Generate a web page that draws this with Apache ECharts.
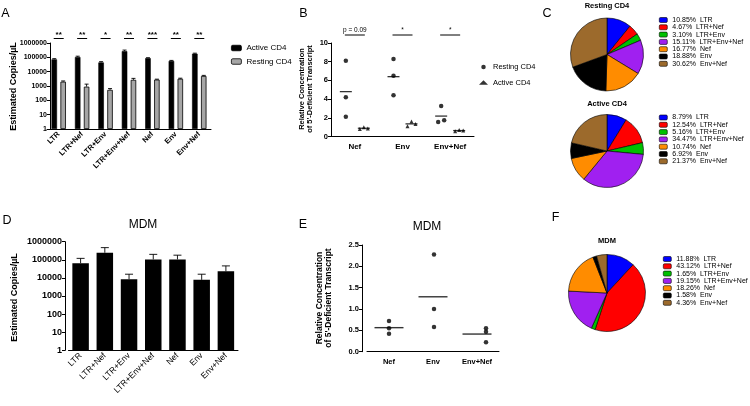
<!DOCTYPE html>
<html><head><meta charset="utf-8">
<script src="https://cdn.jsdelivr.net/npm/echarts@6/dist/echarts.min.js"></script>
<style>html,body{margin:0;padding:0;background:#fff}#c{width:750px;height:406px}</style>
</head><body><div id="c"></div>
<script>
// ---------- data ----------
const barCats = ['LTR','LTR+Nef','LTR+Env','LTR+Env+Nef','Nef','Env','Env+Nef'];
const activeCD4 = [72000, 105000, 44000, 270000, 88000, 56000, 180000];
const activeCD4Err = [9000, 15000, 6000, 50000, 6000, 5000, 15000];
const restingCD4 = [2000, 900, 540, 2700, 2800, 3200, 5000];
const restingCD4Err = [250, 450, 120, 700, 200, 300, 500];
const sigA = ['**','**','*','**','***','**','**'];

const dotCats = ['Nef','Env','Env+Nef'];
const restingRel = [[8.1,4.2,2.1],[8.3,6.5,4.4],[3.25,1.55,1.75]];
const activeRel = [[0.8,1.0,0.85],[1.1,1.6,1.35],[0.55,0.7,0.65]];
const sigB = ['p = 0.09','*','*'];

const mdm = [65000, 245000, 8500, 105000, 105000, 7800, 23000];
const mdmErr = [55000, 225000, 7500, 95000, 75000, 8200, 23000];

const mdmRel = [[0.72,0.55,0.42],[2.28,1.0,0.58],[0.55,0.47,0.22]];

const pieNames = ['LTR','LTR+Nef','LTR+Env','LTR+Env+Nef','Nef','Env','Env+Nef'];
const restingPct = [10.85,4.67,3.10,15.11,16.77,18.88,30.62];
const activePct = [8.79,12.54,5.16,34.47,10.74,6.92,21.37];
const mdmPct = [11.88,43.12,1.65,19.15,18.26,1.58,4.36];
const pieColors = ['#0000ff','#ff0000','#00c000','#a020f0','#ff8c00','#000000','#9c6a2c'];

// ---------- helpers ----------
const FONT = '"Liberation Sans", Arial, sans-serif';
const BLK = '#000';
function errBar(dx, cap) {
  return function (params, api) {
    const i = api.value(0);
    const p0 = api.coord([i, api.value(1)]);
    const p1 = api.coord([i, api.value(2)]);
    const x = p0[0] + dx;
    const st = {stroke: BLK, lineWidth: 0.9};
    return {type: 'group', children: [
      {type: 'line', shape: {x1: x, y1: p0[1], x2: x, y2: p1[1]}, style: st},
      {type: 'line', shape: {x1: x - cap, y1: p1[1], x2: x + cap, y2: p1[1]}, style: st}
    ]};
  };
}
function sigMarks(labels, half, lineGap, textGap, font) {
  return function (params, api) {
    const i = api.value(0);
    const cs = params.coordSys;
    const x = api.coord([i, api.value(1)])[0];
    return {type: 'group', children: [
      {type: 'line', shape: {x1: x - half, y1: cs.y - lineGap, x2: x + half, y2: cs.y - lineGap}, style: {stroke: BLK, lineWidth: 1}},
      {type: 'text', style: {text: labels[i], x: x, y: cs.y - textGap, align: 'center', verticalAlign: 'middle', font: font, fill: BLK}}
    ]};
  };
}
function dots(groups, off, jit) {
  const out = [];
  groups.forEach((arr, c) => arr.forEach((v, k) => out.push({value: [c, v], symbolOffset: [off + jit[c][k], 0]})));
  return out;
}
function means(groups, off) {
  return groups.map((arr, c) => ({value: [c, arr.reduce((a, b) => a + b, 0) / arr.length], symbolOffset: [off, 0]}));
}
function catX(grid, cats, fs, fw, rot, margin) {
  return {gridIndex: grid, type: 'category', data: cats,
    axisLine: {lineStyle: {color: BLK, width: 1}},
    axisTick: {alignWithLabel: true, length: 3, lineStyle: {color: BLK}},
    axisLabel: {rotate: rot, fontSize: fs, fontWeight: fw, color: BLK, margin: margin, interval: 0, fontFamily: FONT},
    splitLine: {show: false}};
}
function logY(grid, fs, off) {
  return {gridIndex: grid, type: 'log', logBase: 10, min: 1, max: 1000000, offset: off,
    axisLine: {show: true, lineStyle: {color: BLK, width: 1}},
    axisTick: {show: true, length: 3, lineStyle: {color: BLK}},
    splitLine: {show: false},
    axisLabel: {fontSize: fs, fontWeight: 'bold', color: BLK, margin: 3, fontFamily: FONT, formatter: v => String(Math.round(v))}};
}
function valY(grid, max, interval, fs, off, dec) {
  return {gridIndex: grid, type: 'value', min: 0, max: max, interval: interval, offset: off,
    axisLine: {show: true, lineStyle: {color: BLK, width: 1}},
    axisTick: {show: true, length: 3, lineStyle: {color: BLK}},
    splitLine: {show: false},
    axisLabel: {fontSize: fs, fontWeight: 'bold', color: BLK, margin: 3, fontFamily: FONT, formatter: v => v.toFixed(dec)}};
}
function txt(t, x, y, font, rot, lh) {
  return {type: 'text', x: x, y: y, rotation: rot || 0, silent: true,
    style: {text: t, font: font, fill: BLK, textAlign: 'center', textVerticalAlign: 'middle', align: 'center', verticalAlign: 'middle', lineHeight: lh}};
}
function pieSeries(pct, center, r) {
  return {type: 'pie', center: center, radius: r, startAngle: 90, clockwise: true,
    label: {show: false}, labelLine: {show: false}, emphasis: {disabled: true}, silent: true,
    itemStyle: {borderColor: BLK, borderWidth: 0.6},
    data: pieNames.map((n, i) => ({name: n, value: pct[i], itemStyle: {color: pieColors[i]}}))};
}
function pieLegend(pct, left, top) {
  return {data: pieNames, orient: 'vertical', left: left, top: top, padding: 0,
    itemWidth: 8, itemHeight: 5, itemGap: 0.3, selectedMode: false,
    itemStyle: {borderColor: BLK, borderWidth: 0.6},
    textStyle: {fontSize: 7, lineHeight: 7, color: BLK, fontFamily: FONT},
    formatter: n => pct[pieNames.indexOf(n)].toFixed(2) + '%  ' + n};
}

const jitRestB = [[0,0,0],[0,0,0],[0,-3,3]];
const jitActB = [[-4,0,4],[-4,0,4],[-4,0,4]];
const jitE = [[0,0,0],[1,1,1],[9,9,9]];

const option = {
  animation: false,
  backgroundColor: '#fff',
  textStyle: {fontFamily: FONT},
  grid: [
    {left: 47, top: 43, width: 164, height: 86},
    {left: 331, top: 43, width: 143, height: 93.5},
    {left: 68.5, top: 241.7, width: 169.5, height: 108.6},
    {left: 367, top: 245, width: 132, height: 106.7}
  ],
  xAxis: [
    catX(0, barCats, 7.5, 'bold', 45, 4),
    catX(1, dotCats, 8, 'bold', 0, 6),
    catX(2, barCats, 8.5, 'normal', 45, 4),
    catX(3, dotCats, 7.5, 'bold', 0, 6)
  ],
  yAxis: [
    logY(0, 7, -3),
    valY(1, 10, 2, 7.5, 0, 0),
    logY(2, 9, 3.5),
    valY(3, 2.5, 0.5, 7.5, 5, 1)
  ],
  legend: [
    {data: ['Active CD4', 'Resting CD4'], orient: 'vertical', left: 231, top: 44, padding: 0,
      itemWidth: 10, itemHeight: 5.5, itemGap: 5.5, selectedMode: false,
      itemStyle: {borderColor: BLK, borderWidth: 0.8},
      textStyle: {fontSize: 8, color: BLK, fontFamily: FONT}},
    {data: [{name: 'Resting CD4 (B)', icon: 'circle'}, {name: 'Active CD4 (B)', icon: 'triangle'}],
      orient: 'vertical', left: 479, top: 63, padding: 0, itemWidth: 9, itemHeight: 4.5, itemGap: 7.5,
      selectedMode: false, formatter: n => n.replace(' (B)', ''),
      textStyle: {fontSize: 7.5, color: BLK, fontFamily: FONT}},
    pieLegend(restingPct, 659, 16.5),
    pieLegend(activePct, 659, 114),
    pieLegend(mdmPct, 663, 255.5)
  ],
  series: [
    // A
    {type: 'bar', name: 'Active CD4', xAxisIndex: 0, yAxisIndex: 0, data: activeCD4, barWidth: 5.5, barGap: '62%',
      itemStyle: {color: BLK, borderColor: BLK, borderWidth: 0.6}, silent: true},
    {type: 'bar', name: 'Resting CD4', xAxisIndex: 0, yAxisIndex: 0, data: restingCD4, barWidth: 5.5,
      itemStyle: {color: '#a6a6a6', borderColor: BLK, borderWidth: 0.8}, silent: true},
    {type: 'custom', xAxisIndex: 0, yAxisIndex: 0, clip: false, silent: true, z: 3,
      data: activeCD4.map((v, i) => [i, v, v + activeCD4Err[i]]), renderItem: errBar(-4.45, 2)},
    {type: 'custom', xAxisIndex: 0, yAxisIndex: 0, clip: false, silent: true, z: 3,
      data: restingCD4.map((v, i) => [i, v, v + restingCD4Err[i]]), renderItem: errBar(4.45, 2)},
    {type: 'custom', xAxisIndex: 0, yAxisIndex: 0, clip: false, silent: true,
      data: sigA.map((s, i) => [i, 1]), renderItem: sigMarks(sigA, 5, 4.5, 8.5, 'bold 8px ' + FONT)},
    // B
    {type: 'scatter', name: 'Resting CD4 (B)', xAxisIndex: 1, yAxisIndex: 1, symbol: 'circle', symbolSize: 4.5,
      itemStyle: {color: BLK}, data: dots(restingRel, -9, jitRestB), silent: true},
    {type: 'scatter', name: 'Active CD4 (B)', xAxisIndex: 1, yAxisIndex: 1, symbol: 'triangle', symbolSize: 4,
      itemStyle: {color: BLK}, data: dots(activeRel, 9, jitActB), silent: true},
    {type: 'scatter', xAxisIndex: 1, yAxisIndex: 1, symbol: 'rect', symbolSize: [12, 1.3],
      itemStyle: {color: BLK}, data: means(restingRel, -9), silent: true},
    {type: 'scatter', xAxisIndex: 1, yAxisIndex: 1, symbol: 'rect', symbolSize: [12, 1.3],
      itemStyle: {color: BLK}, data: means(activeRel, 9), silent: true},
    {type: 'custom', xAxisIndex: 1, yAxisIndex: 1, clip: false, silent: true,
      data: sigB.map((s, i) => [i, 0]), renderItem: sigMarks(sigB, 10, 8, 12.5, '6.5px ' + FONT)},
    // D
    {type: 'bar', name: 'MDM', xAxisIndex: 2, yAxisIndex: 2, data: mdm, barWidth: 16.5,
      itemStyle: {color: BLK}, silent: true},
    {type: 'custom', xAxisIndex: 2, yAxisIndex: 2, clip: false, silent: true, z: 3,
      data: mdm.map((v, i) => [i, v, v + mdmErr[i]]), renderItem: errBar(0, 4)},
    // E
    {type: 'scatter', name: 'MDM rel', xAxisIndex: 3, yAxisIndex: 3, symbol: 'circle', symbolSize: 4.5,
      itemStyle: {color: BLK}, data: dots(mdmRel, 0, jitE), silent: true},
    {type: 'scatter', xAxisIndex: 3, yAxisIndex: 3, symbol: 'rect', symbolSize: [29, 1.4],
      itemStyle: {color: BLK}, data: means(mdmRel, 0), silent: true},
    // C, F
    pieSeries(restingPct, [607, 54.5], 36.5),
    pieSeries(activePct, [607, 151], 36.5),
    pieSeries(mdmPct, [607, 293], 38.5)
  ],
  graphic: {elements: [
    txt('A', 5.5, 13.5, '12.5px ' + FONT),
    txt('B', 303.5, 13.5, '12.5px ' + FONT),
    txt('C', 547, 14, '12.5px ' + FONT),
    txt('D', 7, 221, '12.5px ' + FONT),
    txt('E', 303, 224.5, '12.5px ' + FONT),
    txt('F', 555.5, 217.5, '12.5px ' + FONT),
    txt('Estimated Copies/\u00b5L', 13.5, 86.5, 'bold 9px ' + FONT, Math.PI / 2),
    txt('Relative Concentration\nof 5\'-Deficient Transcript', 306, 89, 'bold 7.5px ' + FONT, Math.PI / 2, 8.5),
    txt('Estimated Copies/\u00b5L', 15, 297.5, 'bold 9px ' + FONT, Math.PI / 2),
    txt('Relative Concentration\nof 5\'-Deficient Transcript', 324, 298, 'bold 8.5px ' + FONT, Math.PI / 2, 9),
    txt('MDM', 143, 225, '12px ' + FONT),
    txt('MDM', 427, 227, '12px ' + FONT),
    txt('Resting CD4', 607, 6, 'bold 7.5px ' + FONT),
    txt('Active CD4', 607, 103.5, 'bold 7.5px ' + FONT),
    txt('MDM', 607, 241, 'bold 7.5px ' + FONT)
  ]}
};
const chart = echarts.init(document.getElementById('c'));
chart.setOption(option);
</script>
</body></html>
